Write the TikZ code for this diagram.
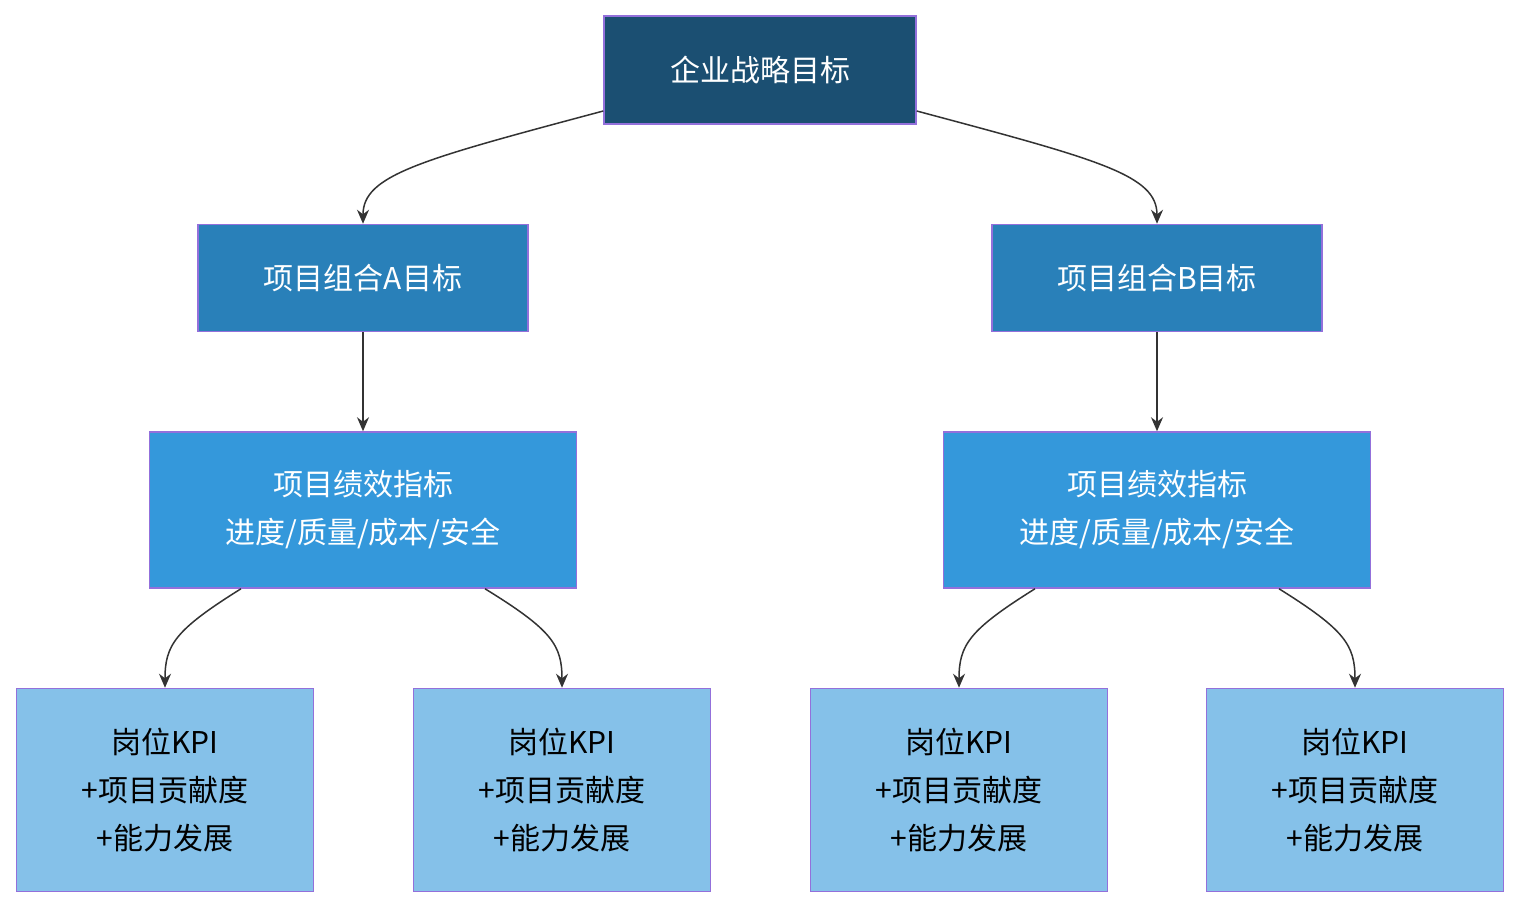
\documentclass[tikz,border=0pt]{standalone}
\usepackage{fontspec}
\setmainfont{Noto Sans CJK SC}
\usetikzlibrary{arrows.meta}
\definecolor{c1}{HTML}{1B4F72}
\definecolor{c2}{HTML}{2980B9}
\definecolor{c3}{HTML}{3498DB}
\definecolor{c4}{HTML}{85C1E9}
\definecolor{bd}{HTML}{9370DB}
\definecolor{ln}{HTML}{333333}
\begin{document}
\begin{tikzpicture}[x=1pt,y=-1pt,
 box/.style={draw=bd,line width=1.5pt,inner sep=0pt,align=center,font=\fontsize{30}{48}\selectfont},
 lvl1/.style={box,fill=c1,text=white,minimum width=312pt,minimum height=108pt},
 lvl2/.style={box,fill=c2,text=white,minimum width=330pt,minimum height=107pt},
 lvl3/.style={box,fill=c3,text=white,minimum width=427pt,minimum height=156pt},
 lvl4/.style={box,fill=c4,text=black,minimum width=297pt,minimum height=203pt},
 arr/.style={draw=ln,line width=1.5pt,-{Stealth[length=14pt,width=12pt]}}]
\useasboundingbox (0,0) rectangle (1519,908);
\node[lvl1] (top) at (760,70) {企业战略目标};
\node[lvl2] (a) at (363,278) {项目组合A目标};
\node[lvl2] (b) at (1157,278) {项目组合B目标};
\node[lvl3] (pa) at (363,510) {项目绩效指标\\进度/质量/成本/安全};
\node[lvl3] (pb) at (1157,510) {项目绩效指标\\进度/质量/成本/安全};
\node[lvl4] (l1) at (165,790) {岗位KPI\\+项目贡献度\\+能力发展};
\node[lvl4] (l2) at (562,790) {岗位KPI\\+项目贡献度\\+能力发展};
\node[lvl4] (l3) at (959,790) {岗位KPI\\+项目贡献度\\+能力发展};
\node[lvl4] (l4) at (1355,790) {岗位KPI\\+项目贡献度\\+能力发展};
\draw[arr] ([yshift=-41pt]top.west) .. controls (420,160) and (363,175) .. (a.north);
\draw[arr] ([yshift=-41pt]top.east) .. controls (1100,160) and (1157,175) .. (b.north);
\draw[arr] (a) -- (pa);
\draw[arr] (b) -- (pb);
\draw[arr] ([xshift=-122pt]pa.south) .. controls (175,630) and (165,645) .. (l1.north);
\draw[arr] ([xshift=122pt]pa.south) .. controls (552,630) and (562,645) .. (l2.north);
\draw[arr] ([xshift=-122pt]pb.south) .. controls (969,630) and (959,645) .. (l3.north);
\draw[arr] ([xshift=122pt]pb.south) .. controls (1345,630) and (1355,645) .. (l4.north);
\end{tikzpicture}
\end{document}
